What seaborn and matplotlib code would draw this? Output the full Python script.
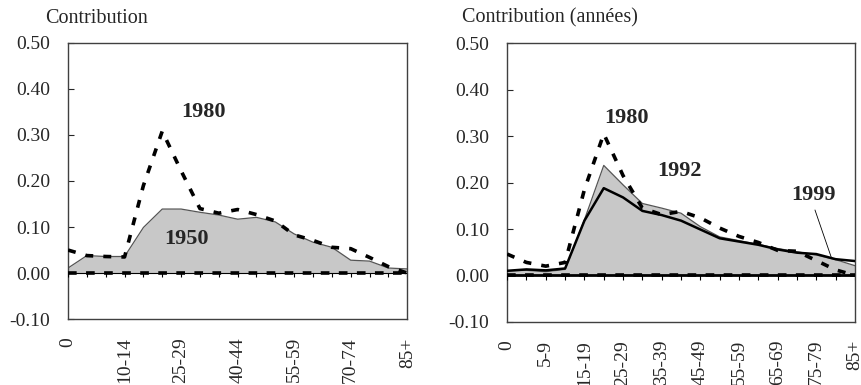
import matplotlib
matplotlib.use("Agg")
import matplotlib.pyplot as plt
import seaborn as sns
import numpy as np
import pandas as pd

age_groups = ["0", "1-4", "5-9", "10-14", "15-19", "20-24", "25-29", "30-34", "35-39",
              "40-44", "45-49", "50-54", "55-59", "60-64", "65-69", "70-74", "75-79",
              "80-84", "85+"]

left_1950 = [0.011, 0.038, 0.036, 0.036, 0.099, 0.139, 0.139, 0.132, 0.126, 0.117,
             0.121, 0.111, 0.085, 0.067, 0.056, 0.028, 0.026, 0.011, 0.009]
left_1980 = [0.050, 0.038, 0.036, 0.035, 0.190, 0.308, 0.222, 0.140, 0.130, 0.138,
             0.127, 0.113, 0.083, 0.071, 0.056, 0.053, 0.034, 0.014, 0.000]

right_1980 = [0.046, 0.028, 0.020, 0.028, 0.185, 0.305, 0.215, 0.145, 0.131, 0.138,
              0.124, 0.102, 0.084, 0.071, 0.054, 0.052, 0.032, 0.012, 0.000]
right_1992 = [0.010, 0.011, 0.008, 0.013, 0.120, 0.237, 0.195, 0.155, 0.145, 0.134,
              0.105, 0.083, 0.075, 0.067, 0.058, 0.051, 0.044, 0.034, 0.021]
right_1999 = [0.010, 0.013, 0.011, 0.015, 0.118, 0.188, 0.168, 0.139, 0.130, 0.118,
              0.099, 0.080, 0.073, 0.066, 0.056, 0.049, 0.046, 0.035, 0.031]

y_ticks = [-0.10, 0.00, 0.10, 0.20, 0.30, 0.40, 0.50]
left_label_idx = [0, 3, 6, 9, 12, 15, 18]
right_label_idx = [0, 2, 4, 6, 8, 10, 12, 14, 16, 18]

sns.set_style("white")
plt.rcParams['font.family'] = ['Liberation Serif', 'DejaVu Serif']

fig = plt.figure(figsize=(8.61, 3.85), dpi=100)
axL = fig.add_axes([0.079, 0.171, 0.394, 0.718])
axR = fig.add_axes([0.589, 0.164, 0.404, 0.7235])

pos = np.arange(len(age_groups))
fill_c = "#c8c8c8"
edge_c = "#555555"
fs = 14


def style_axis(ax, label_idx, zero_lw):
    ax.set_xlim(0, len(age_groups) - 1)
    ax.set_ylim(-0.10, 0.50)
    ax.set_yticks(y_ticks)
    ax.set_yticklabels([f"{v:.2f}" for v in y_ticks], fontsize=fs)
    ax.set_xticks([pos[i] for i in label_idx])
    ax.set_xticklabels([age_groups[i] for i in label_idx], rotation=90, fontsize=fs)
    ax.tick_params(axis='x', length=0, pad=13)
    ax.tick_params(axis='y', direction='in', length=4, width=0.8, pad=13, left=True)
    for s in ax.spines.values():
        s.set_color("#404040")
        s.set_linewidth(1.0)
        s.set_visible(True)
    ax.set_xlabel("")
    ax.set_ylabel("")
    # zero axis with small tick marks
    ax.axhline(0, color="black", lw=zero_lw, zorder=4)
    ax.vlines(pos, -0.009, 0, color="black", lw=0.8, zorder=4)
    ax.axhline(0, color="black", lw=2.6, ls=(0, (2.4, 2.6)), zorder=5)
    legend = ax.get_legend()
    if legend is not None:
        legend.remove()


# ---- Left panel ----
dfL = pd.DataFrame({"pos": pos, "y1950": left_1950, "y1980": left_1980})
axL.fill_between(dfL["pos"], 0, dfL["y1950"], color=fill_c, lw=0, zorder=1)
sns.lineplot(data=dfL, x="pos", y="y1950", ax=axL, color=edge_c, lw=0.9, zorder=2)
sns.lineplot(data=dfL, x="pos", y="y1980", ax=axL, color="black", lw=2.6,
             zorder=3).lines[-1].set_linestyle((0, (2.2, 2.8)))
style_axis(axL, left_label_idx, 0.8)
axL.text(7.17, 0.35, "1980", fontsize=16, fontweight="bold", ha="center", va="center")
axL.text(6.27, 0.074, "1950", fontsize=16, fontweight="bold", ha="center", va="center")
fig.text(0.052, 0.953, "Contribution", fontsize=14.5, ha="left", va="center")

# ---- Right panel ----
dfR = pd.DataFrame({"pos": pos, "y1980": right_1980, "y1992": right_1992,
                    "y1999": right_1999})
axR.fill_between(dfR["pos"], 0, dfR["y1992"], color=fill_c, lw=0, zorder=1)
sns.lineplot(data=dfR, x="pos", y="y1992", ax=axR, color=edge_c, lw=0.9, zorder=2)
sns.lineplot(data=dfR, x="pos", y="y1999", ax=axR, color="black", lw=1.8, zorder=3)
sns.lineplot(data=dfR, x="pos", y="y1980", ax=axR, color="black", lw=2.6,
             zorder=3).lines[-1].set_linestyle((0, (2.2, 2.8)))
style_axis(axR, right_label_idx, 2.0)
axR.text(6.18, 0.340, "1980", fontsize=16, fontweight="bold", ha="center", va="center")
axR.text(8.94, 0.224, "1992", fontsize=16, fontweight="bold", ha="center", va="center")
axR.text(15.87, 0.174, "1999", fontsize=16, fontweight="bold", ha="center", va="center")
axR.plot([15.93, 16.79], [0.141, 0.037], color="black", lw=0.6, zorder=6)
fig.text(0.537, 0.953, "Contribution (années)", fontsize=14.5, ha="left", va="center")

fig.savefig("out.png", dpi=100)
